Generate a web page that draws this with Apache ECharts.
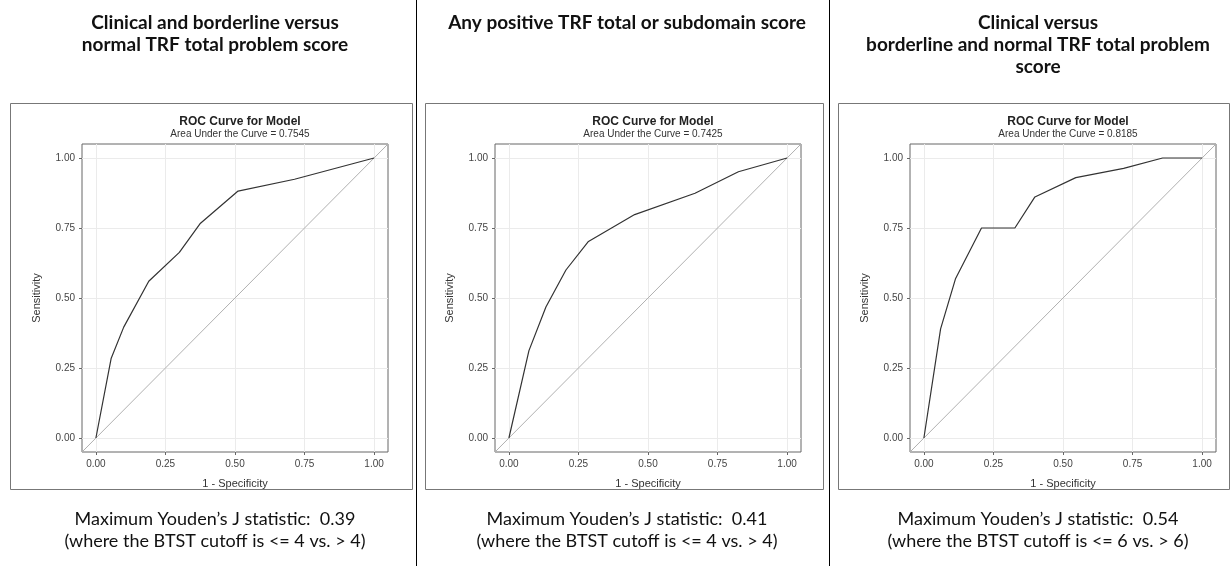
<!DOCTYPE html>
<html>
<head>
<meta charset="utf-8">
<script src="https://cdn.jsdelivr.net/npm/echarts@6/dist/echarts.min.js"></script>
<style>
  html, body { margin: 0; padding: 0; background: #fff; }
  #main { width: 1231px; height: 566px; }
</style>
</head>
<body>
<div id="main"></div>
<script>
var chart = echarts.init(document.getElementById('main'));

// panel texts
var headers = [
  'Clinical and borderline versus\nnormal TRF total problem score',
  'Any positive TRF total or subdomain score',
  'Clinical versus\nborderline and normal TRF total problem\nscore'
];
var aucLabels = ['0.7545', '0.7425', '0.8185'];
var youdenJ = ['0.39', '0.41', '0.54'];
var cutoffs = ['4', '4', '6'];

// ROC points: [1 - specificity, sensitivity]
var roc1 = [[0, 0], [0.055, 0.285], [0.10, 0.396], [0.19, 0.56], [0.30, 0.663], [0.374, 0.765], [0.511, 0.882], [0.714, 0.924], [1, 1]];
var roc2 = [[0, 0], [0.072, 0.312], [0.133, 0.468], [0.205, 0.60], [0.286, 0.702], [0.452, 0.798], [0.669, 0.874], [0.825, 0.951], [1, 1]];
var roc3 = [[0, 0], [0.06, 0.39], [0.114, 0.57], [0.207, 0.75], [0.327, 0.75], [0.399, 0.861], [0.546, 0.93], [0.718, 0.963], [0.858, 1], [1, 1]];
var rocData = [roc1, roc2, roc3];

var tickValues = [0, 0.25, 0.5, 0.75, 1];
var axisRange = [-0.05, 1.05];

var plotLeft = [82, 495, 910];
var colCenter = [210, 622, 1033];
var boxes = [[10, 103, 402, 386], [425, 103, 398, 386], [838, 103, 391, 386]];

var titles = [], grids = [], xAxes = [], yAxes = [], series = [], graphics = [];

for (var i = 0; i < 3; i++) {
  titles.push({
    text: headers[i],
    left: colCenter[i], top: 7, textAlign: 'center',
    textStyle: { fontFamily: 'Lato', fontWeight: 'bold', fontSize: 19, lineHeight: 22, color: '#111' }
  });
  titles.push({
    text: 'Maximum Youden\u2019s J statistic:  ' + youdenJ[i] + '\n(where the BTST cutoff is <= ' + cutoffs[i] + ' vs. > ' + cutoffs[i] + ')',
    left: colCenter[i], top: 503, textAlign: 'center',
    textStyle: { fontFamily: 'Lato', fontWeight: 'normal', fontSize: 18, lineHeight: 22, color: '#111' }
  });
  titles.push({
    text: 'ROC Curve for Model',
    subtext: 'Area Under the Curve = ' + aucLabels[i],
    left: plotLeft[i] + 153, top: 111, textAlign: 'center', itemGap: 1,
    textStyle: { fontFamily: 'Liberation Sans', fontWeight: 'bold', fontSize: 12, color: '#222' },
    subtextStyle: { fontFamily: 'Liberation Sans', fontSize: 10, color: '#333' }
  });

  grids.push({
    left: plotLeft[i], top: 144, width: 306, height: 308,
    show: true, borderColor: '#666', borderWidth: 1, backgroundColor: '#fff'
  });

  var axisCommon = {
    gridIndex: i, type: 'value', min: axisRange[0], max: axisRange[1],
    nameLocation: 'middle',
    nameTextStyle: { fontFamily: 'Liberation Sans', fontSize: 11, color: '#333' },
    axisLine: { show: false, onZero: false },
    axisTick: { show: true, inside: false, length: 3, customValues: tickValues, lineStyle: { color: '#666' } },
    axisLabel: {
      customValues: tickValues, fontFamily: 'Liberation Sans', fontSize: 10, color: '#444', margin: 7,
      formatter: function (v) { return v.toFixed(2); }
    },
    splitLine: { show: true, lineStyle: { color: '#ebebeb', width: 1 } }
  };
  xAxes.push(Object.assign({}, axisCommon, { name: '1 - Specificity', nameGap: 26 }));
  yAxes.push(Object.assign({}, axisCommon, { name: 'Sensitivity', nameGap: 40 }));

  series.push({
    type: 'line', xAxisIndex: i, yAxisIndex: i, showSymbol: false, silent: true,
    data: [[axisRange[0], axisRange[0]], [axisRange[1], axisRange[1]]],
    lineStyle: { color: '#b0b0b0', width: 1 }, z: 2
  });
  series.push({
    type: 'line', xAxisIndex: i, yAxisIndex: i, showSymbol: false, silent: true,
    data: rocData[i],
    lineStyle: { color: '#333', width: 1.2 }, z: 3
  });

  graphics.push({
    type: 'rect', shape: { x: boxes[i][0] + 0.5, y: boxes[i][1] + 0.5, width: boxes[i][2], height: boxes[i][3] },
    style: { fill: null, stroke: '#777', lineWidth: 1 }, z: -10
  });
}

// column separators
graphics.push({ type: 'line', shape: { x1: 416.5, y1: 0, x2: 416.5, y2: 566 }, style: { stroke: '#000', lineWidth: 1 } });
graphics.push({ type: 'line', shape: { x1: 829.5, y1: 0, x2: 829.5, y2: 566 }, style: { stroke: '#000', lineWidth: 1 } });

var option = {
  backgroundColor: '#fff',
  animation: false,
  title: titles,
  grid: grids,
  xAxis: xAxes,
  yAxis: yAxes,
  series: series,
  graphic: graphics
};

chart.setOption(option);
</script>
</body>
</html>
